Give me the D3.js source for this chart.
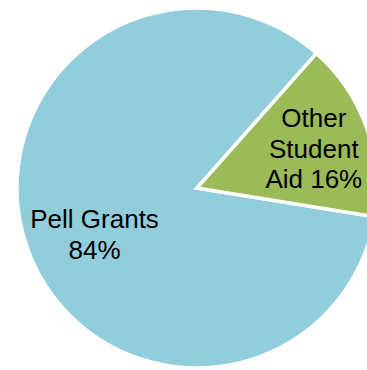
<!DOCTYPE html>
<html>
<head>
<meta charset="utf-8">
<script src="https://cdn.jsdelivr.net/npm/d3@7"></script>
<style>
  body { margin: 0; background: #fff; }
  svg { display: block; }
</style>
</head>
<body>
<div id="chart"></div>
<script>
// Data
const categories = ['Pell Grants', 'Other Student Aid']
const values = [84, 16]
const labelLines = [['Pell Grants', '84%'], ['Other', 'Student', 'Aid 16%']]
const colors = ['#92cddc', '#9bbb59']

// Dimensions
const dimensions = {
  width: 367,
  height: 370,
  cx: 197,
  cy: 188,
  radius: 180,
}

const svg = d3.select('#chart')
  .append('svg')
  .attr('width', dimensions.width)
  .attr('height', dimensions.height)

const ctr = svg.append('g')
  .attr('transform', `translate(${dimensions.cx}, ${dimensions.cy})`)

const dataset = categories.map((c, i) => ({ name: c, value: values[i], lines: labelLines[i], color: colors[i] }))

// Pie
const startDeg = 99.2
const pie = d3.pie()
  .value(d => d.value)
  .sort(null)
  .startAngle(startDeg * Math.PI / 180)
  .endAngle((startDeg + 360) * Math.PI / 180)

const arcs = pie(dataset)

const arc = d3.arc()
  .innerRadius(0)
  .outerRadius(dimensions.radius)

ctr.selectAll('path')
  .data(arcs)
  .join('path')
  .attr('d', arc)
  .attr('fill', d => d.data.color)
  .attr('stroke', '#fff')
  .attr('stroke-width', 3.5)
  .attr('stroke-linejoin', 'miter')

// Labels
const labelRadius = [113, 124]
const nudge = [[4, 8], [0, 2]]  // label box tweaks, like excel does

const labelArc = d3.arc()
  .innerRadius((d, i) => labelRadius[i])
  .outerRadius((d, i) => labelRadius[i])

const lineHeight = 30.5
const fontSize = 26

const labels = ctr.selectAll('text.label')
  .data(arcs)
  .join('text')
  .attr('class', 'label')
  .attr('transform', (d, i) => {
    const [x, y] = labelArc.centroid(d, i)
    return `translate(${x + nudge[i][0]}, ${y + nudge[i][1]})`
  })
  .attr('text-anchor', 'middle')
  .style('font-family', 'Arial, "Liberation Sans", sans-serif')
  .style('font-size', fontSize + 'px')
  .attr('fill', '#000')

labels.selectAll('tspan')
  .data(d => d.data.lines.map((t, j, all) => ({ t, j, n: all.length })))
  .join('tspan')
  .attr('x', 0)
  .attr('y', d => (d.j - (d.n - 1) / 2) * lineHeight + fontSize * 0.36)
  .text(d => d.t)
</script>
</body>
</html>
